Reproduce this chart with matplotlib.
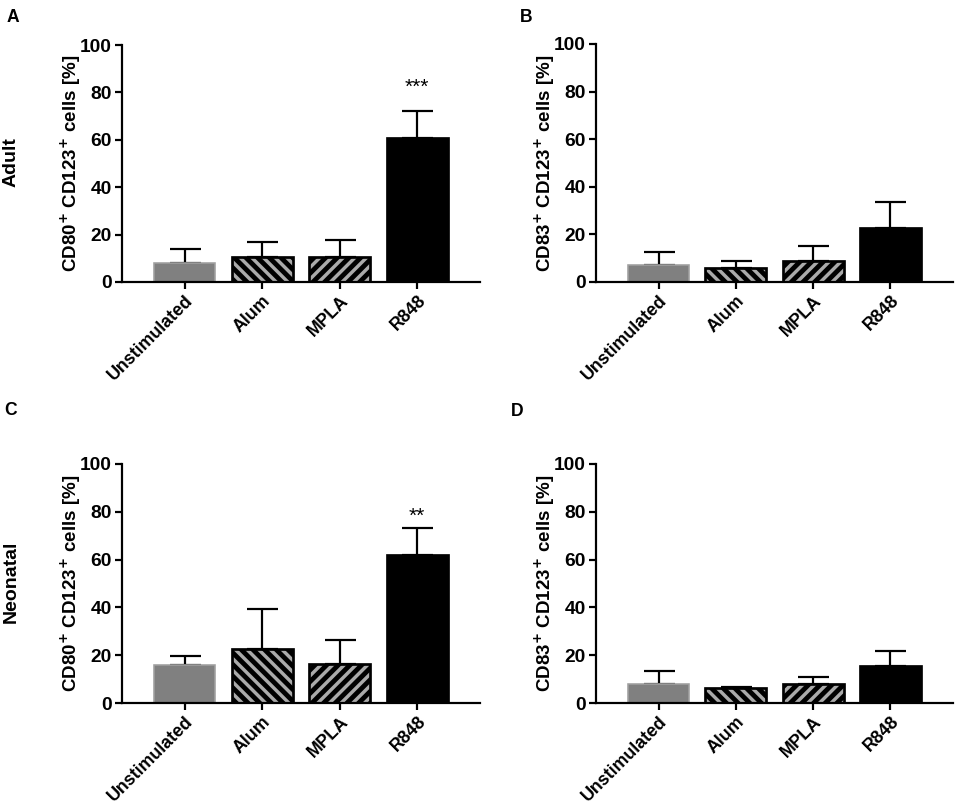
import matplotlib
matplotlib.use("Agg")
import matplotlib.pyplot as plt
import numpy as np

W, H = 957, 807
dpi = 140


def pt(px):
    return px * 72.0 / dpi


plt.rcParams['font.family'] = ['Liberation Sans', 'DejaVu Sans']
plt.rcParams['hatch.linewidth'] = pt(4.8)

categories = ["Unstimulated", "Alum", "MPLA", "R848"]

adult_cd80 = [8.0, 10.4, 10.4, 60.7]
adult_cd80_err = [5.9, 6.3, 7.2, 11.3]
adult_cd83 = [7.0, 5.9, 8.7, 22.6]
adult_cd83_err = [5.8, 3.0, 6.5, 11.2]
neo_cd80 = [15.9, 22.5, 16.2, 61.9]
neo_cd80_err = [3.7, 16.9, 10.2, 11.4]
neo_cd83 = [8.1, 6.3, 7.8, 15.6]
neo_cd83_err = [5.3, 0.5, 3.2, 6.2]

y_ticks = [0, 20, 40, 60, 80, 100]
panel_letters = ["A", "B", "C", "D"]
row_labels = ["Adult", "Neonatal"]
ylabels = [r"CD80$^{\mathbf{+}}$ CD123$^{\mathbf{+}}$ cells [%]",
           r"CD83$^{\mathbf{+}}$ CD123$^{\mathbf{+}}$ cells [%]"]
stars = {0: ("***", 82), 2: ("**", 78)}

fig = plt.figure(figsize=(W / dpi, H / dpi), dpi=dpi)


def frac(l, t, r, b):
    return [l / W, 1 - b / H, (r - l) / W, (b - t) / H]


rects = [frac(122, 45, 480, 282), frac(596, 44, 953, 282),
         frac(122, 464, 480, 703), frac(596, 464, 953, 703)]
datasets = [(adult_cd80, adult_cd80_err), (adult_cd83, adult_cd83_err),
            (neo_cd80, neo_cd80_err), (neo_cd83, neo_cd83_err)]

faces = ['#808080', '#aaaaaa', '#aaaaaa', '#000000']
edges = ['#a0a0a0', '#000000', '#000000', '#000000']
hatches = [None, '\\\\\\\\', '////', None]
lws = [pt(1.6), pt(2.7), pt(2.7), pt(2.7)]

for i, (rect, (vals, errs)) in enumerate(zip(rects, datasets)):
    ax = fig.add_axes(rect)
    x = np.arange(len(categories))
    ax.errorbar(x, vals, yerr=[np.zeros(len(vals)), errs], fmt='none',
                ecolor='black', elinewidth=pt(2.2), capsize=pt(15.5),
                capthick=pt(2.2), zorder=1)
    for j in range(len(categories)):
        ax.bar(x[j], vals[j], width=0.79, color=faces[j], edgecolor=edges[j],
               hatch=hatches[j], linewidth=lws[j], zorder=2)
    ax.set_xlim(-0.81, 3.81)
    ax.set_ylim(0, 100)
    ax.set_yticks(y_ticks)
    ax.set_xticks(x)
    ax.set_xticklabels(categories, rotation=45, ha='right', rotation_mode='anchor',
                       fontsize=pt(17.8), fontweight='bold')
    for lab in ax.get_yticklabels():
        lab.set_fontsize(pt(19.2))
        lab.set_fontweight('bold')
    ax.spines['top'].set_visible(False)
    ax.spines['right'].set_visible(False)
    ax.spines['left'].set_linewidth(pt(2.2))
    ax.spines['bottom'].set_linewidth(pt(2.2))
    ax.tick_params(axis='both', width=pt(2.2), length=pt(7), pad=pt(3))
    ax.set_ylabel(ylabels[i % 2], fontsize=pt(18.8), fontweight='bold', labelpad=pt(-3))
    if i in stars:
        s, yv = stars[i]
        ax.text(3, yv, s, ha='center', va='center', fontsize=pt(21))

letter_pos = [(7, 9), (520, 9), (4, 402), (511, 403)]
for L, (px, py) in zip(panel_letters, letter_pos):
    fig.text(px / W, 1 - py / H, L, fontsize=pt(17.5), fontweight='bold',
             va='top', ha='left')

fig.text(11 / W, 1 - 162 / H, row_labels[0], rotation=90, fontsize=pt(19.5),
         fontweight='bold', ha='center', va='center')
fig.text(11 / W, 1 - 582 / H, row_labels[1], rotation=90, fontsize=pt(19.5),
         fontweight='bold', ha='center', va='center')

fig.savefig("out.png", dpi=dpi)
